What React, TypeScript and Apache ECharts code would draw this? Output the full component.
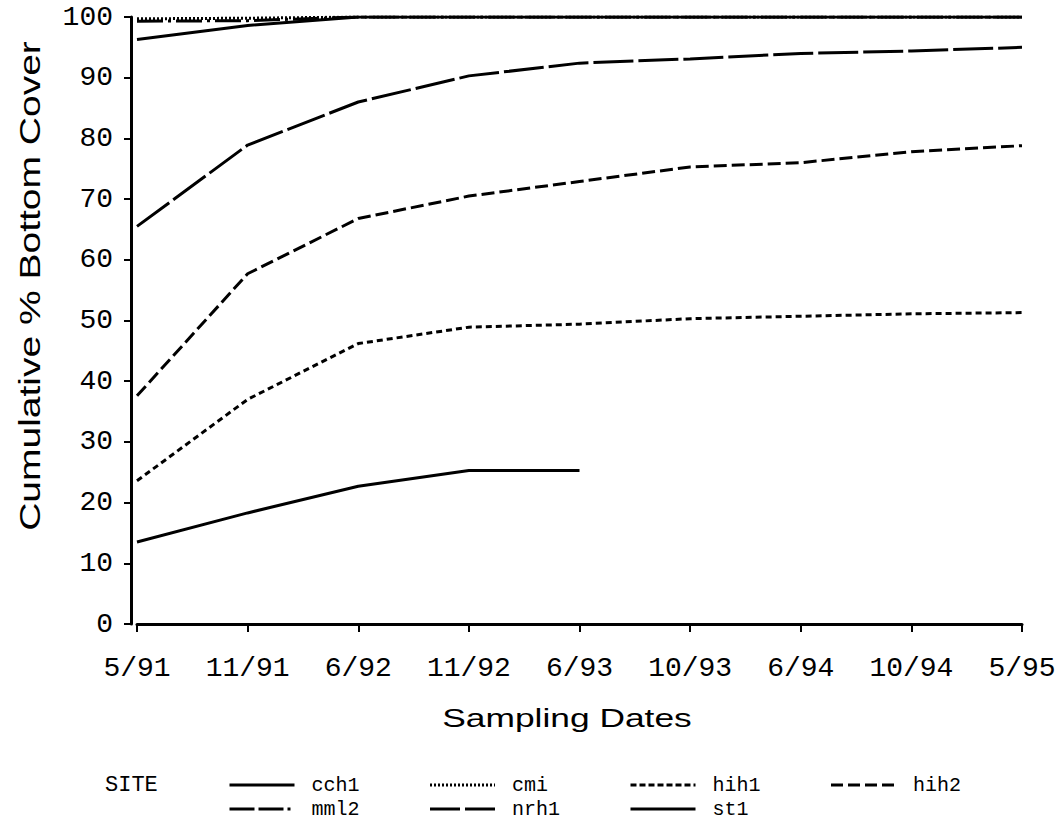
import React, { useEffect, useRef } from "react";
import * as echarts from "echarts";

const dates = ["5/91", "11/91", "6/92", "11/92", "6/93", "10/93", "6/94", "10/94", "5/95"];
const yTicks = [0, 10, 20, 30, 40, 50, 60, 70, 80, 90, 100];

const cch1 = [96.3, 98.6, 100, 100, 100, 100, 100, 100, 100];
const cmi = [99.7, 99.8, 100, 100, 100, 100, 100, 100, 100];
const hih1 = [23.6, 37.0, 46.2, 48.9, 49.4, 50.3, 50.7, 51.1, 51.3];
const hih2 = [37.6, 57.7, 66.8, 70.5, 72.9, 75.3, 76.0, 77.8, 78.8];
const mml2 = [99.3, 99.4, 100, 100, 100, 100, 100, 100, 100];
const nrh1 = [65.5, 78.9, 86.0, 90.3, 92.4, 93.1, 94.0, 94.4, 95.0];
const st1 = [13.5, 18.3, 22.7, 25.3, 25.3, null, null, null, null];

const siteNames = ["cch1", "cmi", "hih1", "hih2", "mml2", "nrh1", "st1"];
const siteValues = [cch1, cmi, hih1, hih2, mml2, nrh1, st1];

const plotDash: any[] = ["solid", [2, 2], [6, 4], [13, 5], [26, 5, 3, 5], [40, 5], "solid"];
const legendDash: any[] = ["solid", [2, 2], [6, 3], [12, 5], [25, 4, 25, 4, 3, 100], [30, 5], "solid"];

const MONO = "'Liberation Mono', 'DejaVu Sans Mono', monospace";
const SANS = "'Liberation Sans', Arial, sans-serif";

export default function App() {
  const ref = useRef<HTMLDivElement>(null);
  useEffect(() => {
    if (!ref.current) return;
    const chart = echarts.init(ref.current, null, { renderer: "svg" });
    const series = siteNames.map((name, i) => ({
      name,
      type: "line",
      data: siteValues[i],
      symbol: "none",
      showSymbol: false,
      connectNulls: false,
      lineStyle: { color: "#000", width: 3, type: plotDash[i] },
      itemStyle: { color: "#000" },
      z: 2,
    }));
    const legendItem = (i: number) => ({
      name: siteNames[i],
      itemStyle: { color: "transparent", borderColor: "transparent", borderWidth: 0, opacity: 0 },
      lineStyle: { color: "#000", width: 3, type: legendDash[i], opacity: 1 },
    });
    const legendCommon = {
      left: 228,
      padding: 0,
      itemWidth: 65,
      itemHeight: 14,
      itemGap: 20,
      selectedMode: false,
      textStyle: {
        fontFamily: MONO,
        fontSize: 20,
        color: "#000",
        lineHeight: 20,
        width: 97,
        padding: [0, 0, 0, 12],
      },
    };
    chart.setOption({
      animation: false,
      backgroundColor: "#fff",
      grid: { left: 137, right: 42, top: 17, bottom: 201, containLabel: false },
      xAxis: {
        type: "category",
        data: dates,
        boundaryGap: false,
        offset: 8,
        axisLine: { lineStyle: { color: "#000", width: 3 } },
        axisTick: { show: true, length: 8, alignWithLabel: true, lineStyle: { color: "#000", width: 2 } },
        axisLabel: { color: "#000", fontFamily: MONO, fontSize: 28, margin: 22, interval: 0 },
        splitLine: { show: false },
      },
      yAxis: {
        type: "value",
        min: 0,
        max: 100,
        interval: 10,
        offset: 6,
        axisLine: { show: true, lineStyle: { color: "#000", width: 3 } },
        axisTick: { show: true, length: 7, lineStyle: { color: "#000", width: 2 } },
        axisLabel: {
          color: "#000",
          fontFamily: MONO,
          fontSize: 28,
          margin: 18,
          formatter: (v: number) => (yTicks.includes(v) ? String(v) : ""),
        },
        splitLine: { show: false },
      },
      legend: [
        { ...legendCommon, top: 775, data: [0, 1, 2, 3].map(legendItem) },
        { ...legendCommon, top: 799, data: [4, 5, 6].map(legendItem) },
      ],
      graphic: [
        {
          type: "text",
          x: 30,
          y: 286,
          rotation: Math.PI / 2,
          scaleX: 1.3,
          style: {
            text: "Cumulative % Bottom Cover",
            fontFamily: SANS,
            fontSize: 30,
            fill: "#000",
            align: "center",
            verticalAlign: "middle",
          },
        },
        {
          type: "text",
          x: 567,
          y: 718,
          scaleX: 1.36,
          style: {
            text: "Sampling Dates",
            fontFamily: SANS,
            fontSize: 26,
            fill: "#000",
            align: "center",
            verticalAlign: "middle",
          },
        },
        {
          type: "text",
          x: 105,
          y: 785,
          style: {
            text: "SITE",
            fontFamily: MONO,
            fontSize: 22,
            fill: "#000",
            align: "left",
            verticalAlign: "middle",
          },
        },
      ],
      series,
    });
    return () => chart.dispose();
  }, []);
  return <div ref={ref} style={{ width: 1064, height: 825, position: "absolute", left: 0, top: 0 }} />;
}
